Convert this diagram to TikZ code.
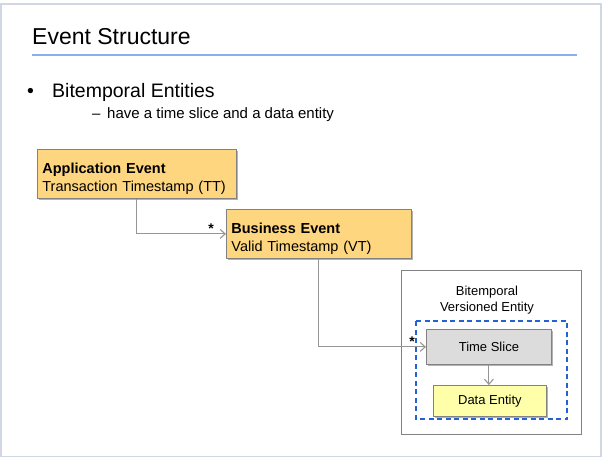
\documentclass[tikz,border=0pt]{standalone}
\usepackage{fontspec}
\setmainfont{Liberation Sans}
\usetikzlibrary{arrows.meta,shadows}

\definecolor{evorange}{RGB}{254,214,128}
\definecolor{slicegray}{RGB}{220,220,220}
\definecolor{entyellow}{RGB}{255,255,170}
\definecolor{dashblue}{RGB}{36,98,210}
\definecolor{rulerblue}{RGB}{140,175,235}
\definecolor{framegray}{RGB}{208,214,226}
\definecolor{linegray}{RGB}{150,150,150}
\definecolor{edgegray}{RGB}{130,130,130}

\tikzset{
  boxshadow/.style={drop shadow={shadow xshift=1.2pt,shadow yshift=-1.2pt,opacity=0.3,fill=black}},
  evbox/.style={draw=edgegray,fill=evorange,line width=0.8pt,boxshadow,anchor=north west,
    align=left,inner xsep=5pt,inner ysep=0pt,minimum height=49pt,font=\fontsize{14.5}{18}\selectfont},
  flatbox/.style={draw=edgegray,line width=0.8pt,boxshadow,anchor=north west,inner sep=0pt,
    font=\fontsize{13}{15}\selectfont},
  conn/.style={draw=linegray,line width=1.1pt,-{Straight Barb[length=5pt,width=9pt]}},
  starmark/.style={inner sep=1pt,font=\fontsize{14}{14}\bfseries}
}

\begin{document}
\begin{tikzpicture}[x=1pt,y=-1pt]
\useasboundingbox (0,0) rectangle (602,458);

%Shape: Slide frame
\draw[framegray,line width=1.5pt] (0.75,3.75) rectangle (600.75,456.5);

% Text Node
\node[anchor=base west,inner sep=0pt,font=\fontsize{23}{26}\selectfont] (title) at (32,44) {Event Structure};
%Straight Lines
\draw[rulerblue,line width=2pt] (32,54.5) -- (577,54.5);

% Text Node
\node[anchor=base west,inner sep=0pt,font=\fontsize{19.5}{22}\selectfont] (bullet) at (27,97) {\textbullet};
\node[anchor=base west,inner sep=0pt,font=\fontsize{19.5}{22}\selectfont] (topic) at (52,97) {Bitemporal Entities};
% Text Node
\node[anchor=base west,inner sep=0pt,font=\fontsize{15}{18}\selectfont] (dash) at (92,118) {--};
\node[anchor=base west,inner sep=0pt,font=\fontsize{15}{18}\selectfont] (subtopic) at (107,118) {have a time slice and a data entity};

%Shape: Rectangle
\node[evbox,text width=189pt] (app) at (37,149) {\rule{0pt}{21pt}\textbf{Application Event}\\Transaction Timestamp (TT)};
%Shape: Rectangle
\node[evbox,text width=175pt] (biz) at (226,209) {\rule{0pt}{21pt}\textbf{Business Event}\\Valid Timestamp (VT)};

%Shape: Rectangle
\node[draw=edgegray,fill=white,line width=0.9pt,anchor=north west,minimum width=180pt,minimum height=164pt] (outer) at (401,270) {};
% Text Node
\node[align=center,inner sep=0pt,font=\fontsize{13}{16}\selectfont] (outertitle) at (487,300) {Bitemporal\\Versioned Entity};
%Shape: Rectangle
\draw[dashblue,line width=1.4pt,dash pattern=on 5pt off 3.5pt] (416,321) rectangle (567,419);

%Shape: Rectangle
\node[flatbox,fill=slicegray,minimum width=125pt,minimum height=35pt] (slice) at (426,329) {Time Slice};
%Shape: Rectangle
\node[flatbox,fill=entyellow,minimum width=113pt,minimum height=31pt] (entity) at (433,385) {Data Entity};

%Straight Lines
\draw[conn] (app.south) |- (biz.west) node[starmark,pos=0.94,anchor=south east,yshift=-1.5pt] (star1) {*};
\draw[conn] (biz.south) |- (slice.west) node[starmark,pos=0.955,anchor=south east,yshift=-1.5pt] (star2) {*};
\draw[conn] (slice.south) -- (slice.south |- entity.north);

\end{tikzpicture}
\end{document}
